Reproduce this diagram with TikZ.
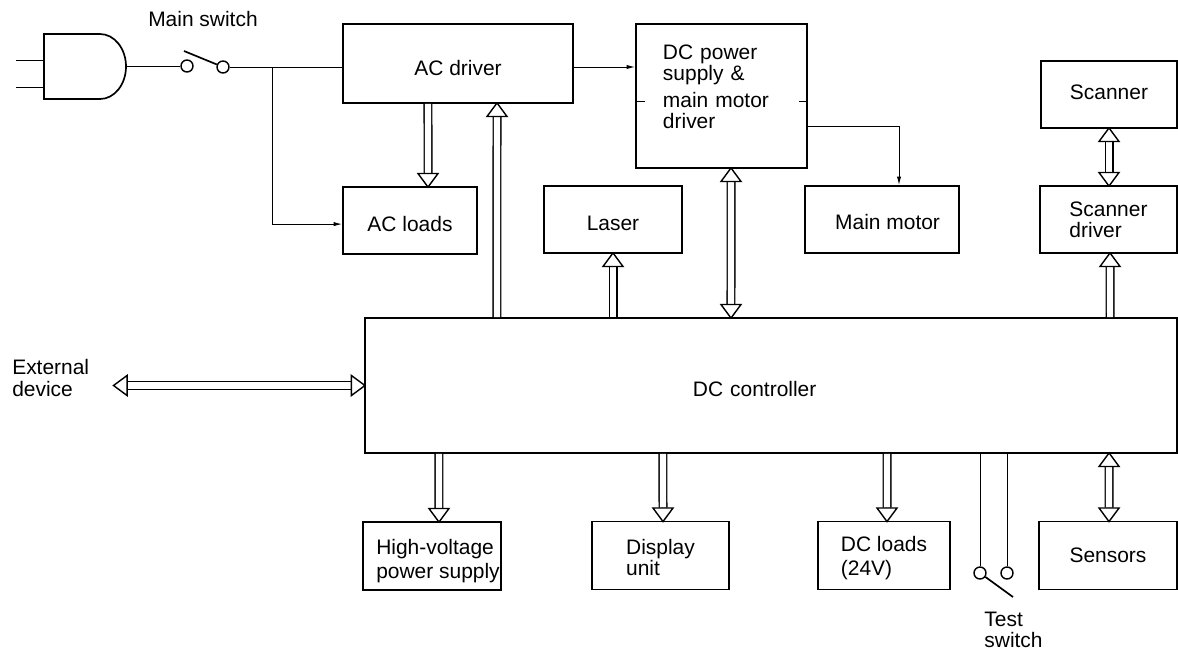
\documentclass[tikz,border=0pt]{standalone}
\usepackage{fontspec}
\setsansfont{Liberation Sans}
\usetikzlibrary{arrows.meta}
\tikzset{
	blockbox/.style={draw, line width=1.2pt, inner sep=0pt, align=left},
	terminal/.style={draw, circle, line width=1pt, minimum size=0.3cm, inner sep=0pt},
	caption/.style={inner sep=0pt, align=left},
	wire/.style={line width=0.7pt},
	blade/.style={line width=1.2pt},
	hollow/.style={line width=1pt, double, double distance=4.4pt, shorten >=-1.5pt, -{Triangle[open, fill=white, length=11pt, width=16pt]}},
	hollowboth/.style={line width=1pt, double, double distance=4.4pt, shorten >=-1.5pt, shorten <=-1.5pt, {Triangle[open, fill=white, length=11pt, width=16pt]}-{Triangle[open, fill=white, length=11pt, width=16pt]}}
}

\begin{document}
\begin{tikzpicture}[x=0.025cm, y=-0.025cm, >={Latex[length=6pt, width=3pt]}, font=\sffamily\fontsize{14.9}{15}\selectfont]
	\useasboundingbox (0,0) rectangle (1178,654);

	% ---------------------------------------------------------
	% Blocks
	% ---------------------------------------------------------
	\node[blockbox, minimum width=5.75cm, minimum height=1.975cm, text height=0.625cm] (acdrv) at (458,63.5) {AC driver};
	\node[blockbox, minimum width=4.275cm, minimum height=3.6cm, text width=2.925cm] (dcdrv) at (721.5,96) {DC power\\supply \&\\[4pt]main motor\\driver\\[-2pt]\mbox{}};
	\node[blockbox, minimum width=3.35cm, minimum height=1.675cm, text height=0.55cm] (acloads) at (410,220.5) {AC loads};
	\node[blockbox, minimum width=3.45cm, minimum height=1.675cm, text height=0.55cm] (laser) at (613,219.5) {Laser};
	\node[blockbox, minimum width=3.85cm, minimum height=1.675cm, text height=0.5cm] (mmotor) at (882,219.5) {\hspace*{0.28cm}Main motor};
	\node[blockbox, minimum width=3.4cm, minimum height=1.675cm, text depth=0.125cm] (scanner) at (1109,94.5) {Scanner};
	\node[blockbox, minimum width=3.425cm, minimum height=1.675cm] (scandrv) at (1108.5,219.5) {Scanner\\driver};
	\node[blockbox, minimum width=20.3cm, minimum height=3.375cm, text width=3.9cm, text height=0.55cm] (ctrl) at (771,385.5) {DC controller};
	\node[blockbox, minimum width=3.45cm, minimum height=1.7cm, text height=1.225cm] (hvsup) at (432,556) {\hspace*{0.3cm}High-voltage\\[2pt]\hspace*{0.3cm}power supply};
	\node[blockbox, minimum width=3.425cm, minimum height=1.7cm, text height=1cm] (disp) at (660.5,555.5) {Display\\unit};
	\node[blockbox, minimum width=3.3cm, minimum height=1.7cm, text height=1.125cm] (dcloads) at (884,555.5) {DC loads\\[2pt](24V)};
	\node[blockbox, minimum width=3.45cm, minimum height=1.7cm] (sensors) at (1108,555.5) {Sensors};

	% ---------------------------------------------------------
	% Plug and main switch
	% ---------------------------------------------------------
	\draw[blade] (44,34) -- (100,34) arc[start angle=90, end angle=-90, x radius=0.65cm, y radius=0.8125cm] -- (44,99) -- cycle;
	\coordinate (plugout) at (126,66);
	\coordinate (pina) at (44,60);
	\coordinate (pinb) at (44,87);
	\draw[wire] (pina) -- ++(-28,0);
	\draw[wire] (pinb) -- ++(-28,0);

	\node[terminal] (msa) at (187,66) {};
	\node[terminal] (msb) at (223,67) {};
	\coordinate (msblade) at (184,51);
	\node[caption] (mslabel) at (203,19) {Main switch};
	\draw[wire] (plugout) -- (msa);
	\draw[blade] (msb) -- (msblade);
	\draw[wire] (msb) -- (msb -| acdrv.west);

	% Branch to the AC loads
	\coordinate (acjoin) at (272,67);
	\draw[wire, ->] (acjoin) |- ([yshift=-0.09cm]acloads.west);

	% ---------------------------------------------------------
	% Thin connectors
	% ---------------------------------------------------------
	\draw[wire, ->] (acdrv.east |- msb) -- (dcdrv.west |- msb);
	\draw[wire, ->] ([yshift=-0.75cm]dcdrv.east) -| ([xshift=0.425cm]mmotor.north);
	% Ticks on the sides of the DC box
	\draw[wire] ([yshift=-0.125cm]dcdrv.west) -- ++(10,0);
	\draw[wire] ([yshift=-0.125cm]dcdrv.east) -- ++(-9,0);

	% ---------------------------------------------------------
	% Hollow arrows
	% ---------------------------------------------------------
	\draw[hollow] ([xshift=-0.75cm]acdrv.south) -- ([xshift=0.45cm]acloads.north);
	\draw[hollow] ([xshift=-6.85cm]ctrl.north) -- ([xshift=0.975cm]acdrv.south);
	\draw[hollow] (ctrl.north -| laser.south) -- (laser.south);
	\draw[hollowboth] ([xshift=0.2375cm]dcdrv.south) -- ([xshift=-1cm]ctrl.north);
	\draw[hollowboth] (scanner.south) -- (scanner.south |- scandrv.north);
	\draw[hollow] ([xshift=8.475cm]ctrl.north) -- ([xshift=0.0375cm]scandrv.south);

	\node[caption, anchor=west] (extdev) at (12,378) {External\\device};
	\draw[hollowboth] ([xshift=0.625cm]extdev.east |- ctrl.west) -- (ctrl.west);

	\draw[hollow] ([xshift=-8.3cm]ctrl.south) -- ([xshift=0.175cm]hvsup.north);
	\draw[hollow] ([xshift=-2.7cm]ctrl.south) -- ([xshift=0.0625cm]disp.north);
	\draw[hollow] ([xshift=2.9cm]ctrl.south) -- ([xshift=0.075cm]dcloads.north);
	\draw[hollowboth] ([xshift=8.45cm]ctrl.south) -- ([xshift=0.025cm]sensors.north);

	% ---------------------------------------------------------
	% Test switch
	% ---------------------------------------------------------
	\node[terminal] (tsa) at (980,573) {};
	\node[terminal] (tsb) at (1007,573) {};
	\coordinate (tsblade) at (1013,597);
	\node[caption] (tslabel) at (1013.5,630) {Test\\switch};
	\draw[wire] (ctrl.south -| tsa) -- (tsa);
	\draw[wire] (ctrl.south -| tsb) -- (tsb);
	\draw[blade] (tsa) -- (tsblade);
\end{tikzpicture}
\end{document}
